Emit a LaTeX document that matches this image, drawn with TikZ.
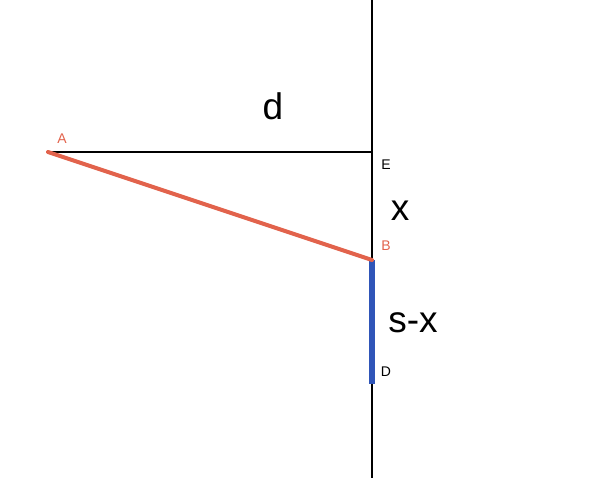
\documentclass[tikz,border=0pt]{standalone}
\usepackage{fontspec}
\setmainfont{Liberation Sans}
\begin{document}
\begin{tikzpicture}[x=1pt,y=-1pt,
  thin line/.style={black,line width=1.5pt},
  red line/.style={draw=redc,line width=4pt},
  blue line/.style={draw=bluec,line width=6pt},
  small label/.style={font=\fontsize{14}{14}\selectfont,inner sep=0pt},
  big label/.style={font=\fontsize{37}{37}\selectfont,inner sep=0pt}]
\definecolor{redc}{HTML}{E2634C}
\definecolor{bluec}{HTML}{2F55B8}
\useasboundingbox (0,0) rectangle (590,478);
\coordinate (top) at (372,0);
\coordinate (bot) at (372,478);
\coordinate (A) at (48,152);
\coordinate (E) at (372,152);
\coordinate (B) at (372,260);
\coordinate (D) at (372,384);
\draw[thin line] (top) -- (bot);
\draw[thin line] (A) -- (E);
\draw[blue line] (B) -- (D);
\draw[red line, line cap=round] (A) -- (B);
\node[small label, text=redc] (lA) at (62,139) {A};
\node[small label] (lE) at (386,165) {E};
\node[small label, text=redc] (lB) at (386,246) {B};
\node[small label] (lD) at (386,372) {D};
\node[big label] (ld) at (273,106) {d};
\node[big label] (lx) at (400,211) {x};
\node[big label] (lsx) at (413,323) {s-x};
\end{tikzpicture}
\end{document}
